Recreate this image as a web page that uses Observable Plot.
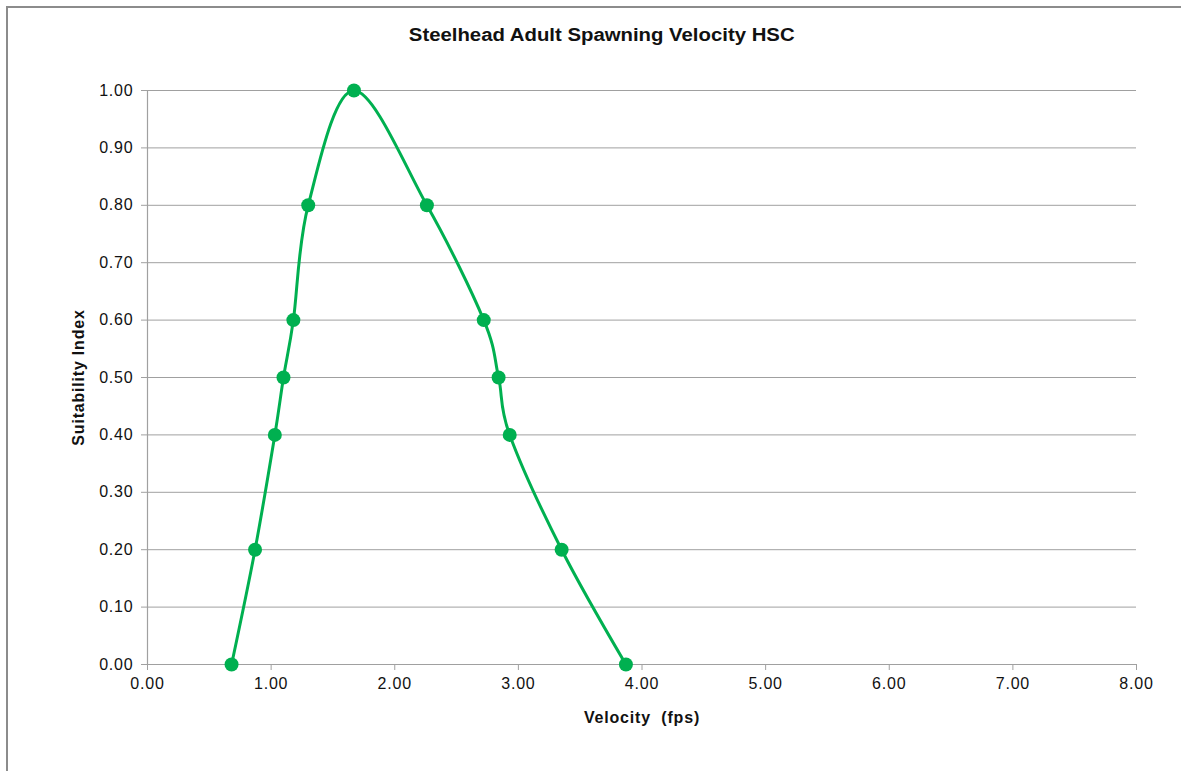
<!DOCTYPE html>
<html>
<head>
<meta charset="utf-8">
<script src="https://cdn.jsdelivr.net/npm/d3@7"></script>
<script src="https://cdn.jsdelivr.net/npm/@observablehq/plot@0.6"></script>
<style>
  html, body { margin: 0; padding: 0; background: #fff; overflow: hidden; }
  #wrap { position: relative; width: 1181px; height: 771px; overflow: hidden; background: #fff; }
  #frame { position: absolute; left: 6px; top: 6px; width: 1300px; height: 900px; border: 2px solid #8c8c8c; box-sizing: border-box; }
  #title { position: relative; height: 50px; padding-top: 10px; line-height: 50px; text-align: center; padding-left: 23px;
           font-family: "Liberation Sans", Arial, sans-serif; font-weight: bold; font-size: 18px; color: #111; }
  #title span { display: inline-block; transform: scaleX(1.13); }
  #chart { position: relative; }
</style>
</head>
<body>
<div id="wrap">
  <div id="frame"></div>
  <div id="title"><span>Steelhead Adult Spawning Velocity HSC</span></div>
  <div id="chart"></div>
</div>
<script>
const velocity = [0.68, 0.87, 1.03, 1.10, 1.18, 1.30, 1.67, 2.26, 2.72, 2.84, 2.93, 3.35, 3.87];
const suitability = [0.0, 0.2, 0.4, 0.5, 0.6, 0.8, 1.0, 0.8, 0.6, 0.5, 0.4, 0.2, 0.0];
const xTicks = [0, 1, 2, 3, 4, 5, 6, 7, 8];
const yTicks = [0, 0.1, 0.2, 0.3, 0.4, 0.5, 0.6, 0.7, 0.8, 0.9, 1.0];
const xLabel = "Velocity\u00a0 (fps)";
const yLabel = "Suitability Index";

const data = velocity.map((v, i) => ({v, s: suitability[i]}));
const green = "#00B050";
const gray = "#a0a0a0";

const chart = Plot.plot({
  width: 1181,
  height: 711,
  marginTop: 30,
  marginBottom: 107,
  marginLeft: 147,
  marginRight: 45,
  style: {fontFamily: "'Liberation Sans', Arial, sans-serif", fontSize: "16px", color: "#111", letterSpacing: "0.8px", background: "transparent"},
  x: {domain: [0, 8]},
  y: {domain: [0, 1]},
  marks: [
    Plot.ruleY(yTicks, {stroke: gray, strokeWidth: 1}),
    Plot.ruleX([0], {stroke: gray, strokeWidth: 1.2}),
    Plot.axisY({ticks: yTicks, tickFormat: d3.format(".2f"), tickSize: 6, tickPadding: 8, stroke: gray, label: null}),
    Plot.axisX({ticks: xTicks, tickFormat: d3.format(".2f"), tickSize: 6, tickPadding: 7, stroke: gray, label: null}),
    Plot.text([xLabel], {frameAnchor: "bottom", dy: 53, textAnchor: "middle", lineAnchor: "middle", fontWeight: "bold", fontSize: 16}),
    Plot.text([yLabel], {frameAnchor: "left", dx: -69, rotate: -90, textAnchor: "middle", lineAnchor: "middle", fontWeight: "bold", fontSize: 16}),
    Plot.line(data, {x: "v", y: "s", stroke: green, strokeWidth: 3, curve: "cardinal", tension: 0}),
    Plot.dot(data, {x: "v", y: "s", r: 7, fill: green, stroke: "none"})
  ]
});
document.getElementById("chart").appendChild(chart);
</script>
</body>
</html>
